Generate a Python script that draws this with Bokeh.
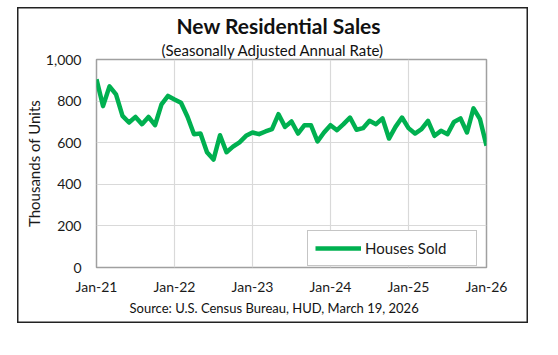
from bokeh.plotting import figure
from bokeh.models import (Legend, LegendItem, NumeralTickFormatter,
                          FixedTicker, Range1d, Title)
from bokeh.embed import file_html
from bokeh.resources import INLINE

# ---- data (thousands of units, SAAR), monthly Jan-21 .. Jan-26 ----
sales = [905, 776, 871, 832, 729, 697, 724, 689, 724, 684, 784, 825,
         808, 792, 725, 641, 644, 554, 519, 636, 554, 581, 602, 633,
         649, 641, 654, 665, 737, 676, 702, 644, 684, 684, 606, 649,
         684, 660, 689, 721, 662, 670, 705, 689, 717, 620, 676, 721,
         670, 644, 665, 705, 633, 657, 641, 700, 717, 649, 765, 713,
         586]
month_index = list(range(len(sales)))
tick_months = [0, 12, 24, 36, 48, 60]
tick_labels = ["Jan-21", "Jan-22", "Jan-23", "Jan-24", "Jan-25", "Jan-26"]
y_ticks = [0, 200, 400, 600, 800, 1000]
series_name = "Houses Sold"
title_text = "New Residential Sales"
subtitle_text = "(Seasonally Adjusted Annual Rate)"
source_text = "Source:  U.S. Census Bureau, HUD, March 19, 2026"

FONT = "Lato"
W, H = 511, 316
FL, FR, FT, FB = 79, 42, 52, 56   # borders around the plot frame

p = figure(width=W, height=H, output_backend="svg", toolbar_location=None,
           x_range=Range1d(0, 60), y_range=Range1d(0, 1000),
           min_border_left=FL, min_border_right=FR,
           min_border_top=FT, min_border_bottom=FB)
p.background_fill_color = "white"
p.border_fill_color = "white"
p.border_fill_alpha = 0
p.styles = {"box-shadow": "inset 0 0 0 1.5px #222222",
            "background-color": "white",
            "margin-left": "17px", "margin-top": "7px"}
p.outline_line_color = "#a0a0a0"
p.outline_line_width = 1.5

p.xgrid.ticker = FixedTicker(ticks=tick_months)
p.ygrid.ticker = FixedTicker(ticks=y_ticks)
p.xgrid.grid_line_color = "#d9d9d9"
p.ygrid.grid_line_color = "#d9d9d9"
p.xgrid.grid_line_width = 1.2
p.ygrid.grid_line_width = 1.2

p.xaxis.ticker = FixedTicker(ticks=tick_months)
p.xaxis.major_label_overrides = {m: l for m, l in zip(tick_months, tick_labels)}
p.yaxis.ticker = FixedTicker(ticks=y_ticks)
p.yaxis.formatter = NumeralTickFormatter(format="0,0")
for ax in (p.xaxis[0], p.yaxis[0]):
    ax.axis_line_color = None
    ax.major_tick_line_color = None
    ax.minor_tick_line_color = None
    ax.major_tick_out = 0
    ax.major_tick_in = 0
    ax.major_label_text_font = FONT
    ax.major_label_text_font_size = "14px"
    ax.major_label_text_color = "#1a1a1a"
p.xaxis.major_label_standoff = 10
p.yaxis.major_label_standoff = 15
p.yaxis.axis_label = "Thousands of Units"
p.yaxis.axis_label_text_font = FONT
p.yaxis.axis_label_text_font_size = "15px"
p.yaxis.axis_label_text_font_style = "normal"
p.yaxis.axis_label_text_color = "#1a1a1a"
p.yaxis.axis_label_standoff = 0

r = p.line(month_index, sales, line_color="#00B050", line_width=4.5,
           line_join="round")

legend = Legend(items=[LegendItem(label=series_name, renderers=[r])],
                location=(211, 1))
legend.border_line_color = "#8c8c8c"
legend.border_line_width = 1.5
legend.background_fill_alpha = 1
legend.padding = 7
legend.margin = 0
legend.glyph_width = 46
legend.glyph_height = 20
legend.label_standoff = 4
legend.label_width = 104
legend.label_text_font = FONT
legend.label_text_font_size = "15px"
legend.label_text_color = "#1a1a1a"
p.add_layout(legend)

# main title outermost (p.title), subtitle added after -> nearer the frame
p.title.text = title_text
p.title.align = "left"
p.title.offset = 80
p.title.standoff = 2
p.title.text_font = FONT
p.title.text_font_size = "21px"
p.title.text_font_style = "bold"
p.title.text_color = "#111111"

p.add_layout(Title(text=subtitle_text, align="left", offset=65, standoff=1,
                   text_font=FONT, text_font_size="15px",
                   text_font_style="normal", text_color="#111111"), "above")

p.add_layout(Title(text=source_text, align="left", offset=33, standoff=0,
                   text_font=FONT, text_font_size="13px",
                   text_font_style="normal", text_color="#111111"), "below")

open("out.html", "w").write(file_html(p, INLINE))
